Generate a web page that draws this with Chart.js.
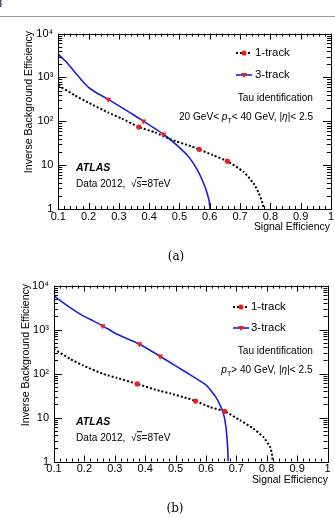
<!DOCTYPE html>
<html>
<head>
<meta charset="utf-8">
<script src="https://cdn.jsdelivr.net/npm/chart.js@4.4.1/dist/chart.umd.min.js"></script>
<style>
  html, body { margin: 0; padding: 0; background: #fff; }
  body { width: 335px; height: 519px; position: relative; overflow: hidden; font-family: "Liberation Sans", Arial, sans-serif; color: #000; }
  canvas { position: absolute; left: 0; }
  .t { position: absolute; white-space: nowrap; transform: translateY(-50%); line-height: 1.15; }
  .r { text-align: right; }
  .ytitle { position: absolute; white-space: nowrap; font-size: 10.6px; transform: translate(-50%, -50%) rotate(-90deg); }
  .cap { position: absolute; font-family: "DejaVu Serif", "Liberation Serif", serif; font-size: 12px; transform: translate(-50%, -50%); }
  sub { font-size: 70%; vertical-align: -3px; line-height: 0; }
</style>
</head>
<body>

<div style="position:absolute;left:-4px;top:-4px;font-family:'Liberation Serif',serif;font-size:12px">8</div>
<div style="position:absolute;left:0;top:16px;width:335px;height:1px;background:#999"></div>

<canvas id="chartA" width="335" height="210" style="top:22px"></canvas>
<canvas id="chartB" width="335" height="210" style="top:274px"></canvas>

<!-- (a) labels -->
<svg style="position:absolute;left:236px;top:48px" width="16" height="10">
  <line x1="0" y1="5" x2="16" y2="5" stroke="#000" stroke-width="2" stroke-dasharray="2,2"/>
  <circle cx="8" cy="5" r="2.6" fill="#ee1c1c"/>
</svg>
<div class="t" style="left:255px;top:52.7px;font-size:11.4px">1-track</div>
<svg style="position:absolute;left:236px;top:70px" width="16" height="10">
  <line x1="0" y1="5" x2="16" y2="5" stroke="#1c1ce0" stroke-width="1.6"/>
  <polygon points="5,3 11,3 8,8" fill="#ee1c1c"/>
</svg>
<div class="t" style="left:255px;top:75px;font-size:11.4px">3-track</div>
<div class="t r" style="right:22px;top:97.7px;font-size:10.1px">Tau identification</div>
<div class="t r" style="right:22px;top:117.3px;font-size:10.1px">20 GeV&lt; <i>p</i><sub>T</sub>&lt; 40 GeV, |<i>η</i>|&lt; 2.5</div>
<div class="t" style="left:76px;top:166.7px;font-size:10.5px;font-weight:bold;font-style:italic">ATLAS</div>
<div class="t" style="left:76px;top:184.3px;font-size:10.1px">Data 2012,&nbsp; √<span style="border-top:1px solid #000">s</span>=8TeV</div>
<div class="t r" style="right:5px;top:226.7px;font-size:10.4px">Signal Efficiency</div>
<div class="ytitle" style="left:28.3px;top:102px">Inverse Background Efficiency</div>
<div class="cap" style="left:176px;top:256px">(a)</div>

<!-- (b) labels -->
<svg style="position:absolute;left:233px;top:301.7px" width="16" height="10">
  <line x1="0" y1="5" x2="16" y2="5" stroke="#000" stroke-width="2" stroke-dasharray="2,2"/>
  <circle cx="8" cy="5" r="2.6" fill="#ee1c1c"/>
</svg>
<div class="t" style="left:251px;top:306.7px;font-size:11.4px">1-track</div>
<svg style="position:absolute;left:233px;top:323.3px" width="16" height="10">
  <line x1="0" y1="5" x2="16" y2="5" stroke="#1c1ce0" stroke-width="1.6"/>
  <polygon points="5,3 11,3 8,8" fill="#ee1c1c"/>
</svg>
<div class="t" style="left:251px;top:328.3px;font-size:11.4px">3-track</div>
<div class="t r" style="right:22px;top:350.7px;font-size:10.1px">Tau identification</div>
<div class="t r" style="right:22.5px;top:370px;font-size:10.1px"><i>p</i><sub>T</sub>&gt; 40 GeV, |<i>η</i>|&lt; 2.5</div>
<div class="t" style="left:76px;top:420.7px;font-size:10.5px;font-weight:bold;font-style:italic">ATLAS</div>
<div class="t" style="left:76px;top:437.7px;font-size:10.1px">Data 2012,&nbsp; √<span style="border-top:1px solid #000">s</span>=8TeV</div>
<div class="t r" style="right:7px;top:480px;font-size:10.4px">Signal Efficiency</div>
<div class="ytitle" style="left:25px;top:355px">Inverse Background Efficiency</div>
<div class="cap" style="left:175px;top:508px">(b)</div>

<script>
// ── Axis ticks ───────────────────────────────────────────────────────────────
const xTickVals   = [0.1, 0.2, 0.3, 0.4, 0.5, 0.6, 0.7, 0.8, 0.9, 1];
const xTickLabels = ['0.1', '0.2', '0.3', '0.4', '0.5', '0.6', '0.7', '0.8', '0.9', '1'];
const yTickVals   = [1, 10, 100, 1000, 10000];
const yTickLabels = ['1', '10', '10²', '10³', '10⁴'];

// ── (a) 20 GeV < pT < 40 GeV ─────────────────────────────────────────────────
const effA1 = [0.100, 0.155, 0.199, 0.265, 0.309, 0.366, 0.419, 0.474, 0.540, 0.565, 0.610, 0.658, 0.711, 0.744, 0.762, 0.772, 0.779];
const rejA1 = [656,   390,   267,   158,   116,   74,    56,    38,    26.7,  22.9,  17,    12.3,  7.1,   3.9,   2.3,   1.5,   1.0];
const effA3 = [0.100, 0.112, 0.128, 0.155, 0.175, 0.199, 0.230, 0.265, 0.330, 0.381, 0.447, 0.491, 0.525, 0.546, 0.565, 0.580, 0.592, 0.598, 0.601];
const rejA3 = [3400,  2800,  2200,  1320,  900,   604,   430,   317,   168,   101,   50.6,  28.6,  17,    11,    6.5,   3.8,   2.2,   1.5,   1.0];
const mkA1x = [0.366, 0.565, 0.658];
const mkA1y = [74, 22.9, 12.3];
const mkA3x = [0.265, 0.381, 0.447];
const mkA3y = [317, 101, 50.6];

// ── (b) pT > 40 GeV ──────────────────────────────────────────────────────────
const effB1 = [0.100, 0.153, 0.196, 0.262, 0.306, 0.374, 0.449, 0.482, 0.542, 0.566, 0.613, 0.662, 0.712, 0.756, 0.789, 0.811, 0.817, 0.820];
const rejB1 = [360,   215,   152,   98,    80,    58,    40,    35.5,  27,    23.7,  17.3,  13.8,  8.7,   5.6,   3.6,   2.16,  1.5,   1.0];
const effB3 = [0.100, 0.153, 0.196, 0.229, 0.260, 0.306, 0.381, 0.449, 0.500, 0.550, 0.600, 0.630, 0.650, 0.660, 0.666, 0.670, 0.672, 0.673];
const rejB3 = [5800,  3150,  2050,  1580,  1215,  790,   469,   247,   150,   92,    55,    31,    17,    10.5,  6,     3,     1.8,   1.0];
const mkB1x = [0.374, 0.566, 0.662];
const mkB1y = [58, 23.7, 13.8];
const mkB3x = [0.260, 0.381, 0.449];
const mkB3y = [1215, 469, 247];

// ── Helpers ──────────────────────────────────────────────────────────────────
const pts = (xs, ys) => xs.map((x, i) => ({ x, y: ys[i] }));
const RED  = '#ee1c1c';
const BLUE = '#1c1ce0';

// ROOT-style frame: box on all four sides, ticks pointing inward
const frameTicks = {
  id: 'frameTicks',
  afterDatasetsDraw(chart) {
    const { ctx, chartArea: a, scales: { x, y } } = chart;
    ctx.save();
    ctx.strokeStyle = '#000';
    ctx.lineWidth = 1;
    ctx.beginPath();
    for (let i = 0; i <= 45; i++) {
      const px = Math.round(x.getPixelForValue(0.1 + i * 0.02)) + 0.5;
      const len = i % 5 === 0 ? 6 : 3;
      ctx.moveTo(px, a.bottom); ctx.lineTo(px, a.bottom - len);
      ctx.moveTo(px, a.top);    ctx.lineTo(px, a.top + len);
    }
    for (let d = 1; d <= 10000; d *= 10) {
      for (let m = 1; m <= 9; m++) {
        const v = d * m;
        if (v > 10000) break;
        const py = Math.round(y.getPixelForValue(v)) + 0.5;
        const len = m === 1 ? 8 : 4;
        ctx.moveTo(a.left, py);  ctx.lineTo(a.left + len, py);
        ctx.moveTo(a.right, py); ctx.lineTo(a.right - len, py);
      }
    }
    ctx.stroke();
    ctx.strokeRect(Math.round(a.left) + 0.5, Math.round(a.top) + 0.5,
                   Math.round(a.right - a.left), Math.round(a.bottom - a.top));
    ctx.restore();
  }
};

function makeChart(id, c1, c3, m1, m3, geom) {
  return new Chart(document.getElementById(id).getContext('2d'), {
    type: 'scatter',
    data: {
      datasets: [
        { data: m1, pointStyle: 'circle', pointRadius: 2.6, backgroundColor: RED, borderColor: RED, borderWidth: 0, order: 0 },
        { data: m3, pointStyle: 'triangle', pointRotation: 180, pointRadius: 3.4, backgroundColor: RED, borderColor: RED, borderWidth: 0, order: 0 },
        { data: c1, showLine: true, pointRadius: 0, borderColor: '#000', borderWidth: 2, borderDash: [2, 2], tension: 0.15, order: 1 },
        { data: c3, showLine: true, pointRadius: 0, borderColor: BLUE, borderWidth: 1.6, tension: 0.15, order: 1 },
      ],
    },
    options: {
      responsive: false,
      animation: false,
      devicePixelRatio: 1,
      layout: { padding: { top: geom.top, right: geom.right, left: 0, bottom: 0 } },
      plugins: { legend: { display: false }, tooltip: { enabled: false } },
      scales: {
        x: {
          type: 'linear', min: 0.1, max: 1,
          grid: { display: false, drawTicks: false, tickLength: 0 },
          border: { display: false },
          afterBuildTicks: s => { s.ticks = xTickVals.map(v => ({ value: v })); },
          afterFit: s => { s.height = geom.xh; },
          ticks: {
            padding: 1, color: '#000',
            font: { family: 'Liberation Sans', size: 11 },
            callback: v => xTickLabels[xTickVals.findIndex(t => Math.abs(t - v) < 1e-6)],
            maxRotation: 0, autoSkip: false,
          },
        },
        y: {
          type: 'logarithmic', min: 1, max: 10000,
          grid: { display: false, drawTicks: false, tickLength: 0 },
          border: { display: false },
          afterBuildTicks: s => { s.ticks = yTickVals.map(v => ({ value: v })); },
          afterFit: s => { s.width = geom.yw; },
          ticks: {
            padding: 5, color: '#000',
            font: { family: 'Liberation Sans', size: 11 },
            callback: v => yTickLabels[yTickVals.indexOf(v)],
            autoSkip: false,
          },
        },
      },
    },
    plugins: [frameTicks],
  });
}

makeChart('chartA', pts(effA1, rejA1), pts(effA3, rejA3), pts(mkA1x, mkA1y), pts(mkA3x, mkA3y),
          { top: 10.3, right: 4, yw: 58.3, xh: 23 });
makeChart('chartB', pts(effB1, rejB1), pts(effB3, rejB3), pts(mkB1x, mkB1y), pts(mkB3x, mkB3y),
          { top: 10.5, right: 7.5, yw: 54, xh: 22.5 });
</script>
</body>
</html>
